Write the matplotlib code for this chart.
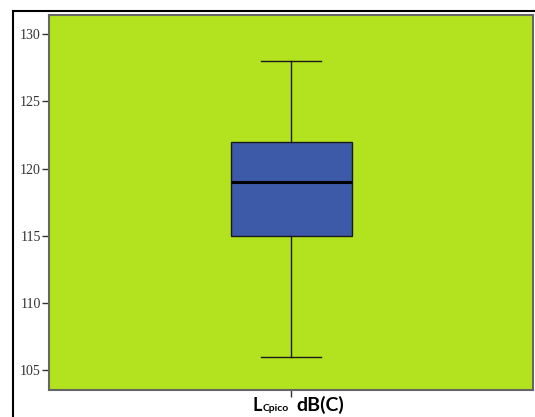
import matplotlib
matplotlib.use('Agg')
import matplotlib.pyplot as plt
from matplotlib.lines import Line2D

# box statistics (dB(C))
stat_names = ['whislo', 'q1', 'med', 'q3', 'whishi']
stat_values = [106, 115, 119, 122, 128]
y_ticks = [105, 110, 115, 120, 125, 130]

fig = plt.figure(figsize=(5.35, 4.17), dpi=100)
ax = fig.add_axes([49 / 535, 27 / 417, 484 / 535, 375 / 417])
ax.set_facecolor('#b3e31e')

stats = [dict(zip(stat_names, stat_values))]
ax.bxp(stats, positions=[1], widths=0.25, showfliers=False, patch_artist=True,
       boxprops=dict(facecolor='#3d5aa8', edgecolor='#1a1a1a', linewidth=1.0),
       medianprops=dict(color='black', linewidth=2.2),
       whiskerprops=dict(color='#1a1a1a', linewidth=1.0),
       capprops=dict(color='#1a1a1a', linewidth=1.0), capwidths=0.125)

ax.set_xlim(0.5, 1.5)
ax.set_ylim(103.52, 131.43)
ax.set_yticks(y_ticks)
ax.set_yticklabels([str(t) for t in y_ticks], family='Liberation Serif',
                   fontsize=10, color='#333333')
ax.set_xticks([1])
ax.set_xticklabels([''])
ax.tick_params(axis='both', direction='out', length=5, width=1.0, color='#333333', pad=1)
for s in ax.spines.values():
    s.set_color('#666666')
    s.set_linewidth(1.5)

# axis label: L with small subscript "Cpico", then dB(C)
fig.text(262 / 535, 1 - 411 / 417, 'L', fontsize=13, fontweight='bold',
         family='Lato', ha='right', va='baseline')
fig.text(263 / 535, 1 - 411 / 417, 'Cpico', fontsize=7.5, fontweight='bold',
         family='Lato', ha='left', va='baseline')
fig.text(296 / 535, 1 - 411 / 417, 'dB(C)', fontsize=14, fontweight='bold',
         family='Lato', ha='left', va='baseline')

# outer black frame lines (top and left)
fig.add_artist(Line2D([13 / 535, 1], [1 - 11 / 417, 1 - 11 / 417], color='black', linewidth=1.5))
fig.add_artist(Line2D([13 / 535, 13 / 535], [0, 1 - 11 / 417], color='black', linewidth=1.5))

fig.savefig('out.png', dpi=100)
